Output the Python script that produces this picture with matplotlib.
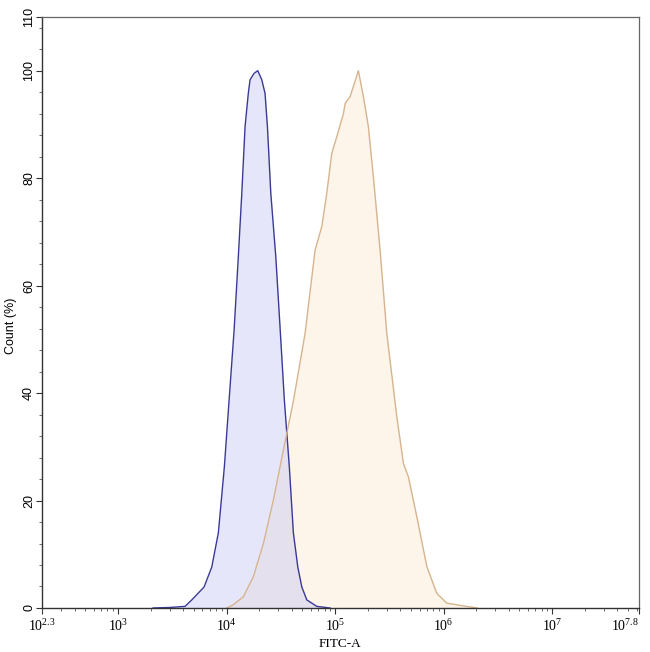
import numpy as np
import matplotlib
matplotlib.use("Agg")
import matplotlib.pyplot as plt
from matplotlib.ticker import FixedLocator, LogLocator, NullFormatter

# control sample (blue), log10 of FITC-A and count (%)
blue_log = [3.323, 3.48, 3.618, 3.68, 3.793, 3.864, 3.925, 3.98, 4.024, 4.07,
            4.109, 4.141, 4.171, 4.201, 4.217, 4.254, 4.288, 4.325, 4.355,
            4.377, 4.408, 4.454, 4.494, 4.533, 4.579, 4.616, 4.657, 4.694,
            4.74, 4.832, 4.954]
blue_count = [0, 0.1, 0.3, 1.5, 3.9, 7.6, 14, 26.2, 38.7, 51.7,
              65.4, 77.2, 89.6, 95.8, 98.3, 99.5, 100, 98.3, 95.8,
              89.6, 77.2, 65.4, 52, 38.7, 26.2, 14, 7.6, 3.9,
              1.5, 0.3, 0]

# stained sample (orange)
orange_log = [4.002, 4.063, 4.155, 4.247, 4.34, 4.432, 4.524, 4.616, 4.724,
              4.816, 4.878, 4.924, 4.97, 5.016, 5.077, 5.093, 5.139, 5.176,
              5.215, 5.261, 5.307, 5.353, 5.415, 5.477, 5.569, 5.63, 5.676,
              5.753, 5.846, 5.938, 6.03, 6.18, 6.309]
orange_count = [0, 0.6, 2.1, 5.8, 12, 20.1, 29.4, 38.5, 51.1,
                66.6, 71, 77.2, 84.6, 87.7, 92, 93.9, 95.2, 97.5,
                100, 95.2, 89.6, 80.3, 66.6, 51.1, 35.6, 26.9, 24.4,
                17, 7.7, 2.7, 0.9, 0.4, 0]

x_tick_exp = [2.3, 3, 4, 5, 6, 7, 7.8]
x_tick_labels = [r"$10^{2.3}$", r"$10^{3}$", r"$10^{4}$", r"$10^{5}$",
                 r"$10^{6}$", r"$10^{7}$", r"$10^{7.8}$"]
y_ticks = [0, 20, 40, 60, 80, 100, 110]

plt.rcParams['font.family'] = ['Liberation Serif', 'DejaVu Serif']
plt.rcParams['mathtext.fontset'] = 'custom'
plt.rcParams['mathtext.rm'] = 'Liberation Serif'
plt.rcParams['mathtext.it'] = 'Liberation Serif'

fig = plt.figure(figsize=(6.5, 6.52), dpi=100)
ax = fig.add_axes([0.0646, 0.0675, 0.9184, 0.9065])

bx = 10 ** np.array(blue_log)
ox = 10 ** np.array(orange_log)

ax.fill_between(ox, orange_count, 0, color='#fae3c8', alpha=0.38, lw=0)
ax.fill_between(bx, blue_count, 0, color='#c8c8f5', alpha=0.45, lw=0)
ax.plot(bx, blue_count, color='#3a3a96', lw=1.0)
ax.plot(ox, orange_count, color='#d6b48e', lw=1.0)

ax.set_xscale('log')
ax.set_xlim(10 ** 2.3, 10 ** 7.8)
ax.set_ylim(0, 110)

ax.xaxis.set_major_locator(FixedLocator([10 ** e for e in x_tick_exp]))
ax.set_xticklabels(x_tick_labels)
ax.xaxis.set_minor_locator(LogLocator(base=10, subs=np.arange(2, 10), numticks=20))
ax.xaxis.set_minor_formatter(NullFormatter())
# keep the last label inside the figure
ax.get_xticklabels()[-1].set_ha('right')
ax.get_xticklabels()[-1].set_x(10 ** 7.8)

ax.set_yticks(y_ticks)
ax.set_yticklabels([str(v) for v in y_ticks], rotation=90, va='center',
                   family='Liberation Sans')
ax.yaxis.set_minor_locator(FixedLocator(np.arange(0, 111, 4)))

ax.tick_params(axis='both', which='major', direction='out', length=4,
               width=0.8, color='#333333', pad=3)
ax.tick_params(axis='x', which='major', labelsize=10)
ax.tick_params(axis='y', which='major', labelsize=9, pad=1)
ax.tick_params(axis='both', which='minor', direction='out', length=2,
               width=0.6, color='#555555')

for s in ['left', 'bottom']:
    ax.spines[s].set_color('#333333')
    ax.spines[s].set_linewidth(1.0)
for s in ['top', 'right']:
    ax.spines[s].set_color('#666666')
    ax.spines[s].set_linewidth(0.9)

ax.set_xlabel('FITC-A', fontsize=9.5, labelpad=3)
fig.text(11 / 650, 0.5, 'Count (%)', rotation=90, ha='center', va='center',
         fontsize=9, family='Liberation Sans')

fig.savefig('out.png', dpi=100)
